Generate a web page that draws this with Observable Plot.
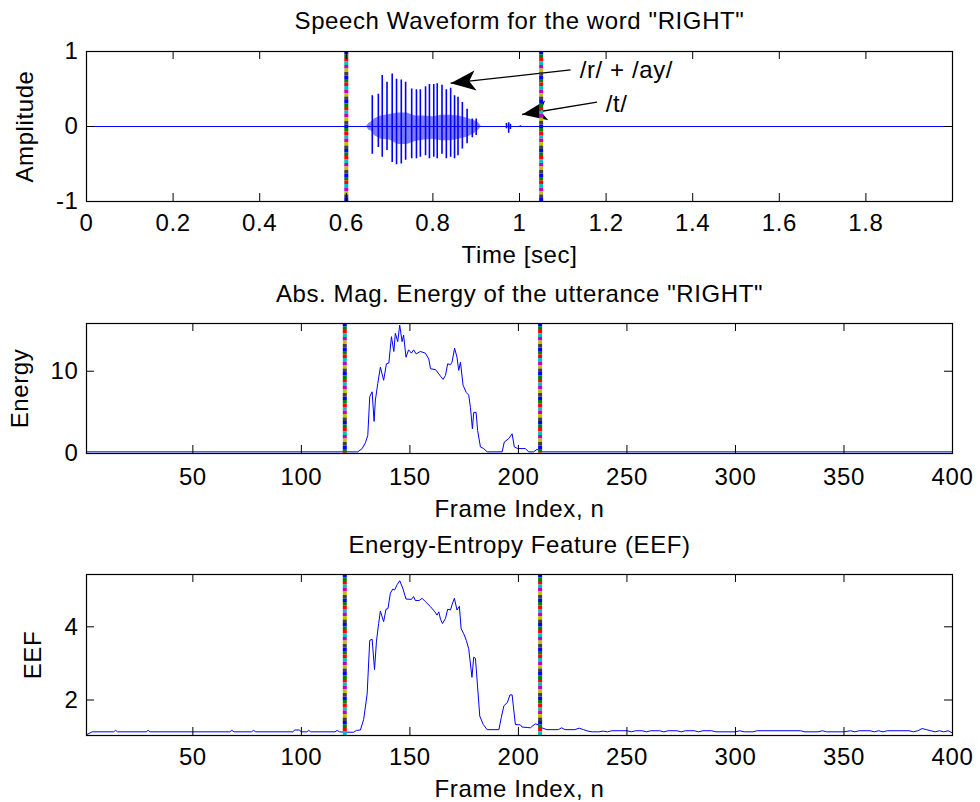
<!DOCTYPE html>
<html><head><meta charset="utf-8">
<script src="https://cdn.jsdelivr.net/npm/d3@7"></script>
<script src="https://cdn.jsdelivr.net/npm/@observablehq/plot@0.6"></script>
<style>
html,body{margin:0;padding:0;background:#fff;}
#chart{width:980px;height:802px;position:relative;overflow:hidden;}
#chart svg{display:block;}
</style></head><body><div id="chart"></div>
<script>
// ---------------- DATA ----------------
// Panel 1: speech waveform (seconds / amplitude)
const pulseTime = [0.660,0.674,0.683,0.694,0.706,0.716,0.727,0.737,0.751,0.762,0.771,0.783,0.792,0.802,0.810,0.821,0.831,0.841,0.850,0.858,0.868,0.879,0.891,0.900,0.970,0.975,0.979,1.002];
const pulseHigh = [0.41,0.43,0.68,0.59,0.70,0.63,0.62,0.59,0.50,0.49,0.49,0.53,0.56,0.56,0.57,0.55,0.49,0.51,0.41,0.39,0.32,0.23,0.10,0.10,0.04,0.05,0.03,0.01];
const pulseLow  = [-0.37,-0.28,-0.41,-0.32,-0.48,-0.51,-0.50,-0.45,-0.43,-0.43,-0.41,-0.39,-0.43,-0.41,-0.43,-0.37,-0.43,-0.41,-0.43,-0.39,-0.30,-0.23,-0.15,-0.12,-0.03,-0.09,-0.04,-0.01];
const bandTime = [0.647,0.652,0.658,0.665,0.680,0.700,0.720,0.740,0.760,0.780,0.800,0.820,0.840,0.860,0.880,0.895,0.905,0.912];
const bandHigh = [0.00,0.04,0.06,0.10,0.14,0.16,0.18,0.18,0.14,0.14,0.13,0.15,0.15,0.14,0.11,0.08,0.05,0.00];
const bandLow  = [0.00,-0.05,-0.06,-0.12,-0.17,-0.18,-0.24,-0.24,-0.20,-0.18,-0.17,-0.19,-0.19,-0.17,-0.14,-0.10,-0.05,0.00];
const timeBoundaries = [0.6, 1.05];
const timeTicks = [0,0.2,0.4,0.6,0.8,1,1.2,1.4,1.6,1.8];
const ampTicks = [-1,0,1];
const noteText = ["/r/ + /ay/", "/t/"];
const noteT = [1.139, 1.199];
const noteAmp = [0.752, 0.30];
const arrowTailT = [1.118, 1.179];
const arrowTailAmp = [0.756, 0.324];
const arrowTipT = [0.841, 1.006];
const arrowTipAmp = [0.577, 0.16];

// Panel 2: absolute magnitude energy per frame
const energyN = [1,126,128,129.5,130.6,131.5,132.6,133.5,134.1,135.2,136.4,137.9,139.2,140.3,141.5,142.6,143.3,144.4,145.3,146.4,147.1,148.2,149.4,150.7,151.7,152.9,154.8,157.1,158.7,159.5,161.8,164.1,165.3,166.4,167.4,168.7,169.4,170.6,171.7,172.5,173.3,174.5,176.0,177.1,177.9,178.8,179.4,180.5,181.2,182.5,184.0,185.6,192.5,193.5,195.5,197.1,198.1,199.7,203.2,204.7,207.0,208.6,210.1,211,400];
const energyVal = [0.2,0.2,0.6,1.3,2.2,6.9,7.5,3.9,6.5,8.5,10.5,8.9,10.9,11.0,14.2,12.4,14.6,13.6,15.6,13.6,14.4,11.7,12.6,12.2,12.6,12.1,12.4,12.2,11.5,10.3,10.2,9.4,9.0,9.5,10.9,10.8,11.1,12.8,11.7,10.1,11.1,8.3,7.4,7.1,5.6,3.0,5.0,5.0,2.8,0.8,0.6,0.2,0.2,1.4,1.8,2.4,0.8,0.6,0.6,0.2,0.2,0.5,0.3,0.2,0.2];
const frameBoundaries = [120, 210];
const frameTicks = [50,100,150,200,250,300,350,400];
const energyTicks = [0,10];

// Panel 3: energy-entropy feature
const eefN = [1,3.6,13.5,14.4,15.3,28.5,29.4,30.3,67,68,69,77,78,79,96,97,99,100,102.5,103.4,104.3,115.5,116.5,117.5,119.5,124.1,125.4,127.2,128.7,130.3,131.5,132.6,133.7,134.6,135.6,136.4,137.9,139.0,139.9,141.0,142.1,143.0,144.1,145.3,146.7,148.2,150.7,151.7,152.5,154.3,155.6,157.1,159.5,161.5,162.5,163.3,164.1,165.0,166.4,167.4,168.7,169.4,170.5,171.7,172.8,173.6,174.8,176.0,177.1,178.6,179.4,180.2,182.2,183.8,185.6,191.0,192.1,193.3,194.9,196.1,197.1,198.6,200.9,201.7,204.0,205.5,207.8,209.3,210.8,213.1,218.4,219.9,221.5,226,228,230,232,234,237,239,241,243,250,252,254,257,259,261,265,267,269,273,275,277,281,283,285,289,291,300,302,304,308,310,330,332,338,340,342,350,353,355,357,362,364,366,368,370,380,382,384,386,388,390,392,394,396,398,400];
const eefVal = [1.05,1.13,1.13,1.17,1.13,1.13,1.17,1.13,1.13,1.17,1.13,1.13,1.17,1.13,1.13,1.18,1.18,1.13,1.13,1.17,1.13,1.13,1.17,1.13,1.12,1.12,1.17,1.18,1.47,2.16,3.63,3.66,2.83,3.61,4.09,4.43,4.14,4.48,4.50,4.92,5.03,5.01,5.15,5.26,5.06,4.76,4.75,4.83,4.72,4.72,4.78,4.69,4.55,4.41,4.32,4.41,4.21,4.09,4.23,4.48,4.46,4.60,4.78,4.46,4.56,3.95,3.81,3.63,3.40,2.62,3.17,3.14,1.56,1.33,1.19,1.19,1.52,1.84,1.93,2.14,2.14,1.33,1.32,1.26,1.25,1.24,1.35,1.32,1.24,1.19,1.19,1.24,1.19,1.19,1.23,1.19,1.15,1.13,1.13,1.15,1.13,1.16,1.16,1.13,1.16,1.16,1.13,1.16,1.16,1.13,1.16,1.16,1.13,1.16,1.16,1.13,1.16,1.16,1.13,1.13,1.16,1.13,1.13,1.16,1.16,1.13,1.13,1.16,1.13,1.13,1.16,1.13,1.16,1.16,1.13,1.16,1.13,1.16,1.16,1.13,1.16,1.22,1.19,1.16,1.13,1.16,1.13,1.16,1.10];
const eefTicks = [2,4];

// ---------------- LAYOUT / STYLE ----------------
const W = 980, ML = 86, MR = 28;
const FONT = "'Liberation Sans', Arial, Helvetica, sans-serif";
const BLUE = "#0000ff";
const markerColors = ["#0000ff","#008000","#ff0000","#00bfbf","#bf00bf","#bfbf00","#404040"];

const boundaryMarks = xs => markerColors.map((c, i) =>
  Plot.ruleX(xs, {x: d => d, stroke: c, strokeWidth: 4, strokeDasharray: "3.5,21", strokeDashoffset: -i * 3.5}));

const arrowHead = {
  draw(ctx, size) {
    const r = Math.sqrt(size / Math.PI);
    ctx.moveTo(0, 0);
    ctx.lineTo(-2 * r, -0.8 * r);
    ctx.lineTo(-1.5 * r, 0);
    ctx.lineTo(-2 * r, 0.8 * r);
    ctx.closePath();
  }
};

function panel(o) {
  const plotW = W - ML - MR, plotH = o.height - o.mt - o.mb, L = 8;
  const fmt = d => String(d);
  return Plot.plot({
    width: W, height: o.height,
    marginLeft: ML, marginRight: MR, marginTop: o.mt, marginBottom: o.mb,
    style: {fontFamily: FONT, fontSize: "24px", letterSpacing: "0.6px", background: "white", color: "black", overflow: "visible"},
    x: {domain: o.xDomain},
    y: {domain: o.yDomain},
    marks: [
      ...o.marks,
      ...boundaryMarks(o.boundaries),
      Plot.tickX(o.xTicks, {x: d => d, insetTop: plotH - L, stroke: "black"}),
      Plot.tickX(o.xTicks, {x: d => d, insetBottom: plotH - L, stroke: "black"}),
      Plot.tickY(o.yTicks, {y: d => d, insetRight: plotW - L, stroke: "black"}),
      Plot.tickY(o.yTicks, {y: d => d, insetLeft: plotW - L, stroke: "black"}),
      Plot.frame({stroke: "black", strokeWidth: 1.2}),
      Plot.axisX({ticks: o.xTicks, tickSize: 0, tickPadding: o.tickPad, tickFormat: fmt, label: null}),
      Plot.axisY({ticks: o.yTicks, tickSize: 0, tickPadding: 8, tickFormat: fmt, label: null}),
      Plot.text([o.title], {frameAnchor: "top", dy: o.titleY - o.mt, lineAnchor: "middle", textAnchor: "middle"}),
      Plot.text([o.xLabel], {frameAnchor: "bottom", dy: o.xLabelY - (o.height - o.mb), lineAnchor: "middle", textAnchor: "middle"}),
      Plot.text([o.yLabel], {frameAnchor: "left", dx: o.yLabelX - ML, rotate: -90, lineAnchor: "middle", textAnchor: "middle"})
    ]
  });
}

// ---------- Panel 1 ----------
const p1 = {height: 272, mt: 51, mb: 71};
const sx1 = d3.scaleLinear([0, 2], [ML, W - MR]);
const sy1 = d3.scaleLinear([-1, 1], [p1.height - p1.mb, p1.mt]);
const pulses = pulseTime.map((t, i) => ({t, hi: pulseHigh[i], lo: pulseLow[i]}));
const band = bandTime.map((t, i) => ({t, hi: bandHigh[i], lo: bandLow[i]}));
const notes = noteText.map((s, i) => ({s, t: noteT[i], a: noteAmp[i]}));
const arrows = arrowTipT.map((t, i) => ({x1: arrowTailT[i], y1: arrowTailAmp[i], x2: t, y2: arrowTipAmp[i]}));
const angle = d => Math.atan2(sy1(d.y2) - sy1(d.y1), sx1(d.x2) - sx1(d.x1)) * 180 / Math.PI;

const chart1 = panel({
  ...p1, xDomain: [0, 2], yDomain: [-1, 1], boundaries: timeBoundaries,
  xTicks: timeTicks, yTicks: ampTicks, tickPad: 12,
  title: 'Speech Waveform for the word "RIGHT"', titleY: 21.3,
  xLabel: "Time [sec]", xLabelY: 255.3, yLabel: "Amplitude", yLabelX: 25,
  marks: [
    Plot.ruleY([0], {y: d => d, stroke: BLUE, strokeWidth: 1}),
    Plot.areaY(band, {x: "t", y1: "lo", y2: "hi", fill: BLUE, fillOpacity: 0.5}),
    Plot.ruleX(pulses, {x: "t", y1: "lo", y2: "hi", stroke: BLUE, strokeWidth: 1.6}),
    Plot.link(arrows, {x1: "x1", y1: "y1", x2: "x2", y2: "y2", stroke: "black", strokeWidth: 1.3}),
    Plot.dot(arrows, {x: "x2", y: "y2", symbol: arrowHead, r: 12.5, fill: "black", stroke: "none", rotate: angle}),
    Plot.text(notes, {x: "t", y: "a", text: "s", textAnchor: "start", lineAnchor: "middle"})
  ]
});

// ---------- Panel 2 ----------
const energy = energyN.map((n, i) => ({n, e: energyVal[i]}));
const chart2 = panel({
  height: 258, mt: 51, mb: 77, xDomain: [1, 400], yDomain: [0, 15.8], boundaries: frameBoundaries,
  xTicks: frameTicks, yTicks: energyTicks, tickPad: 14,
  title: 'Abs. Mag. Energy of the utterance "RIGHT"', titleY: 22.3,
  xLabel: "Frame Index, n", xLabelY: 237.3, yLabel: "Energy", yLabelX: 20,
  marks: [Plot.line(energy, {x: "n", y: "e", stroke: BLUE, strokeWidth: 1})]
});

// ---------- Panel 3 ----------
const eef = eefN.map((n, i) => ({n, v: eefVal[i]}));
const chart3 = panel({
  height: 272, mt: 44, mb: 67, xDomain: [1, 400], yDomain: [1.03, 5.43], boundaries: frameBoundaries,
  xTicks: frameTicks, yTicks: eefTicks, tickPad: 12,
  title: "Energy-Entropy Feature (EEF)", titleY: 15.3,
  xLabel: "Frame Index, n", xLabelY: 259.3, yLabel: "EEF", yLabelX: 33,
  marks: [Plot.line(eef, {x: "n", y: "v", stroke: BLUE, strokeWidth: 1})]
});

const root = document.getElementById("chart");
root.append(chart1, chart2, chart3);
</script></body></html>
